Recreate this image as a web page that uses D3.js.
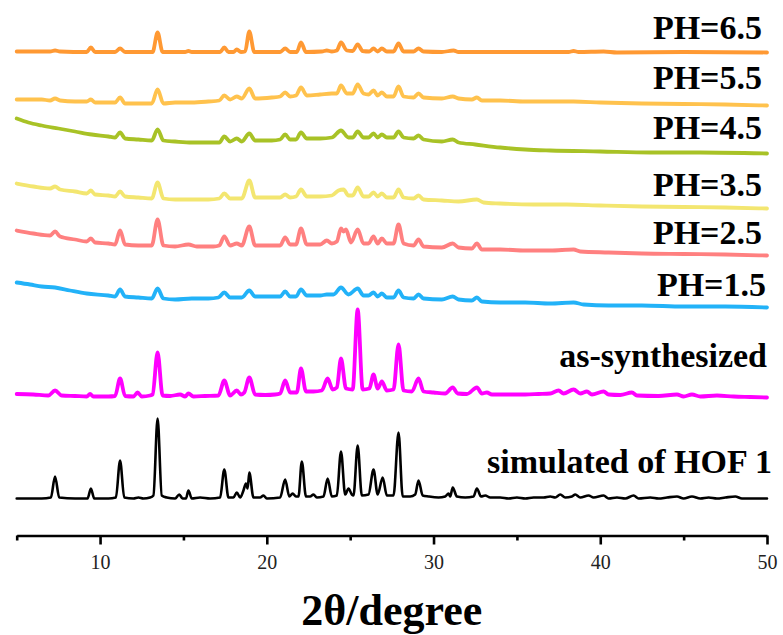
<!DOCTYPE html>
<html>
<head>
<meta charset="utf-8">
<script src="https://cdn.jsdelivr.net/npm/d3@7"></script>
<style>
  html, body { margin: 0; padding: 0; background: #fff; }
  svg { display: block; }
</style>
</head>
<body>
<div id="chart"></div>
<script>
// PXRD patterns of HOF 1, stacked with vertical offsets (intensity in a.u.)
var names = ["simulated of HOF 1", "as-synthesized", "PH=1.5", "PH=2.5", "PH=3.5", "PH=4.5", "PH=5.5", "PH=6.5"];
var colors = ["#000000", "#ff00ff", "#22b2f8", "#ff8080", "#f3e670", "#a8c226", "#ffc24d", "#ff9933"];
var offsets = [37, 138, 228, 280, 327, 382, 430, 483];
var xTicks = [10, 20, 30, 40, 50];
var xMinorTicks = [5, 15, 25, 35, 45];

// [2theta, intensity] pairs for each pattern
var simulated = [[5,0],[6.5,0],[7.05,1],[7.3,22],[7.55,1],[8.5,0],[9.25,0],[9.45,10],[9.65,0],[10.5,0],[10.95,1],[11.2,38],[11.45,1],[12.0,0],[12.3,1],[12.6,0],[13.0,1],[13.2,3],[13.45,80],[13.7,3],[14.0,1],[14.5,0],[14.75,4],[14.95,0],[15.15,0],[15.3,8],[15.5,0],[16.0,1],[16.6,0],[17.2,1],[17.45,29],[17.7,1],[18.0,1],[18.2,6],[18.4,1],[18.6,8],[18.75,15],[18.85,10],[18.95,26],[19.2,1],[19.6,1],[19.8,3],[20.0,0],[20.8,1],[21.1,19],[21.35,2],[21.55,5],[21.75,2],[21.9,2],[22.1,37],[22.35,2],[22.6,2],[22.8,4],[23.0,1],[23.4,2],[23.65,20],[23.9,2],[24.2,3],[24.45,47],[24.7,4],[24.9,10],[25.1,4],[25.2,3],[25.45,53],[25.7,3],[26.1,4],[26.4,29],[26.65,4],[26.95,21],[27.2,3],[27.6,3],[27.9,66],[28.15,2],[28.6,2],[28.9,4],[29.1,18],[29.35,3],[29.7,2],[30.3,1],[30.7,2],[30.9,5],[31.0,2],[31.15,11],[31.4,2],[31.9,1],[32.4,2],[32.6,10],[32.85,2],[33.1,3],[33.4,1],[34.0,1],[34.5,0],[35.0,1],[35.5,0],[36.0,1],[36.6,1],[37.0,2],[37.3,1],[37.6,4],[37.9,1],[38.3,2],[38.5,4],[38.8,1],[39.3,3],[39.6,1],[40.2,3],[40.5,0],[41.0,1],[41.5,0],[42.0,3],[42.3,0],[43.0,1],[43.5,0],[44.0,1],[44.6,2],[45.0,0],[45.5,2],[46.0,0],[46.5,1],[47.0,0],[47.5,1],[48.1,2],[48.5,0],[49.2,0],[50,0]];

var asSynthesized = [[5,3.5],[6,3],[6.9,2],[7.3,7],[7.7,2],[8.5,1.5],[9.2,1],[9.4,3.5],[9.6,1],[10.5,1],[10.9,1.5],[11.2,19],[11.5,1.5],[12.0,1],[12.25,5],[12.5,1],[13.0,2],[13.15,3],[13.45,45],[13.75,2],[14.2,1.5],[14.8,3],[15.1,1],[15.3,4],[15.6,1],[16.3,1.5],[17.1,2],[17.45,17],[17.8,2],[18.2,7],[18.45,3],[18.65,5],[18.95,20],[19.3,3],[19.9,2.5],[20.5,3],[20.8,4],[21.1,17],[21.4,5],[21.8,5],[22.05,29],[22.35,6],[22.8,6],[23.3,7],[23.65,19],[23.95,8],[24.2,10],[24.45,39],[24.75,9],[25.15,8],[25.45,88],[25.75,8],[26.15,9],[26.4,23],[26.65,9],[26.9,16],[27.2,7],[27.6,8],[27.9,53],[28.2,7],[28.7,6],[29.1,19],[29.4,6],[30.0,5],[30.7,4],[31.15,10],[31.45,4],[32.0,3.5],[32.6,10],[32.9,4],[33.2,5],[33.5,3],[34.5,3],[35.5,3],[36.3,3.5],[37.0,4],[37.5,7],[37.8,4],[38.4,8],[38.8,4],[39.2,6],[39.5,3],[40.2,6],[40.5,3],[41.2,2.5],[41.9,5],[42.2,2],[43.5,1.5],[44.6,3],[45.0,1],[45.5,3],[46.0,1],[47.0,2],[48.0,1],[49.0,0.5],[50,0]];

var ph15 = [[5,25],[5.8,23],[6.5,21],[7.3,20],[8.2,17],[9.2,14],[10.5,12],[10.9,11],[11.2,18],[11.5,11],[12.3,10],[13.1,9],[13.45,19],[13.8,9],[14.5,8],[15.5,9],[16.5,9],[17.1,10],[17.45,15],[17.8,10],[18.5,10],[18.95,17],[19.3,11],[20.3,11],[20.8,11],[21.1,16],[21.4,11],[21.75,11],[22.05,18],[22.4,12],[23.2,12],[23.6,13],[24.0,13],[24.45,20],[24.9,13],[25.45,19],[25.8,12],[26.1,12],[26.4,15],[26.65,11],[26.9,14],[27.2,10],[27.6,10],[27.9,17],[28.2,10],[28.8,9],[29.1,13],[29.4,9],[30.5,8],[31.15,11],[31.5,8],[32.3,7],[32.6,10],[32.9,6],[34,5],[35.5,5],[37,4],[38.4,5],[39,3],[40.5,2],[42.5,2],[45,1],[47.5,1],[50,0]];

var ph25 = [[5,25],[6,22],[7.0,20],[7.3,24],[7.6,19],[8.5,16],[9.2,14],[9.45,17],[9.7,13],[10.5,12],[10.9,11],[11.2,25],[11.5,11],[12.3,10],[13.1,10],[13.45,36],[13.8,10],[14.5,9],[15.3,11],[15.8,9],[16.8,9],[17.15,10],[17.45,19],[17.8,10],[18.2,12],[18.5,10],[18.95,29],[19.3,10],[20.3,10],[20.8,10],[21.1,18],[21.4,11],[21.75,11],[22.05,27],[22.4,11],[23.2,11],[23.6,15],[23.9,12],[24.2,14],[24.45,27],[24.6,24],[24.75,26],[25.05,13],[25.45,26],[25.8,12],[26.1,12],[26.4,19],[26.65,12],[26.9,17],[27.2,12],[27.6,12],[27.9,31],[28.2,12],[28.8,10],[29.1,16],[29.4,9],[30.5,8],[31.15,12],[31.5,8],[32.3,7],[32.6,12],[32.9,6],[34,6],[35.5,5],[37,5],[38.4,6],[38.8,4],[40.5,3],[42.5,2],[45,1.5],[47.5,1],[50,0]];

var ph35 = [[5,25],[6,22],[7.0,20],[7.3,22],[7.6,19],[8.5,17],[9.2,15],[9.45,18],[9.7,14],[10.5,13],[10.9,12],[11.2,17],[11.5,12],[12.3,11],[13.1,10],[13.45,26],[13.8,10],[14.5,9],[15.5,9],[16.5,9],[17.15,10],[17.45,15],[17.8,10],[18.5,10],[18.95,28],[19.3,11],[20.3,11],[20.8,11],[21.1,14],[21.4,11],[21.75,12],[22.05,19],[22.4,12],[23.2,12],[23.9,13],[24.3,18],[24.6,19],[24.9,13],[25.15,13],[25.45,21],[25.8,12],[26.1,12],[26.4,16],[26.65,12],[26.9,15],[27.2,11],[27.6,11],[27.9,19],[28.2,11],[28.8,10],[29.1,13],[29.4,9],[30.5,8],[31.5,7],[32.6,9],[33,6],[34,5],[36,4],[38,4],[40,3],[42.5,2],[45,1.5],[47.5,1],[50,0]];

var ph45 = [[5,35],[5.7,31],[6.5,28],[7.5,25],[8.5,22],[9.5,19],[10.5,17],[10.9,16],[11.2,21],[11.5,15],[12.3,14],[13.1,13],[13.45,24],[13.8,13],[14.5,12],[15.5,11],[16.5,11],[17.15,11],[17.45,17],[17.8,12],[18.2,15],[18.5,12],[18.95,20],[19.3,13],[20.3,13],[20.8,14],[21.1,19],[21.4,14],[21.75,14],[22.05,21],[22.4,15],[23.2,15],[23.9,16],[24.45,23],[24.9,16],[25.15,16],[25.45,22],[25.8,16],[26.1,16],[26.4,20],[26.65,16],[26.9,19],[27.2,16],[27.6,16],[27.9,22],[28.2,16],[28.8,15],[29.1,18],[29.4,14],[30.5,12],[31.15,14],[31.5,11],[32.5,9],[34,6],[35.5,4],[37,3],[40,2],[43,1],[46,1],[50,0]];

var ph55 = [[5,6],[6.5,6],[7.0,5],[7.3,7],[7.6,5],[8.5,4],[9.2,4],[9.45,6],[9.7,3],[10.5,3],[10.9,3],[11.2,8],[11.5,2],[12.3,2],[13.1,2],[13.45,16],[13.8,2],[14.5,3],[15.5,3],[16.5,4],[17.15,5],[17.45,10],[17.8,6],[18.2,9],[18.5,7],[18.95,17],[19.3,7],[20.3,8],[20.8,9],[21.1,13],[21.4,9],[21.75,10],[22.05,18],[22.4,10],[23.2,11],[23.9,12],[24.2,12],[24.45,20],[24.8,12],[25.15,12],[25.45,21],[25.8,12],[26.1,11],[26.4,15],[26.65,10],[26.9,13],[27.2,9],[27.6,9],[27.9,19],[28.2,9],[28.8,8],[29.1,12],[29.4,8],[30.5,7],[31.15,9],[31.5,7],[32.3,6],[32.6,8],[32.9,5],[34,5],[35.5,4],[37,4],[38.4,4],[40,3],[42.5,2],[45,1.5],[47.5,1],[50,0]];

var ph65 = [[5,1],[7.0,1],[7.3,2],[7.6,1],[9.2,0.5],[9.45,5],[9.7,0.5],[10.9,0.5],[11.2,4],[11.5,0.5],[13.15,0.5],[13.45,20],[13.75,0.5],[15.1,0.5],[15.3,1.5],[15.5,0.5],[17.2,0.5],[17.45,5],[17.7,0.5],[18.0,0.5],[18.2,3],[18.45,0.5],[18.7,1],[18.95,21],[19.25,0.5],[20.8,0.5],[21.1,4],[21.4,0.5],[21.8,0.5],[22.05,10],[22.35,0.5],[23.3,1],[23.6,2],[23.9,1],[24.2,2],[24.45,10],[24.8,2],[25.15,1.5],[25.45,8],[25.75,1.5],[26.15,1],[26.4,4],[26.65,1],[26.9,4],[27.2,1],[27.6,1],[27.9,9],[28.2,1],[28.8,1],[29.1,4],[29.4,1],[30.5,0.5],[31.2,2],[31.5,0.5],[33,0.5],[35,0.5],[38.1,0.5],[38.4,1.5],[38.7,0.5],[40.2,1],[41,0],[45,0.5],[50,0]];

var patterns = [simulated, asSynthesized, ph15, ph25, ph35, ph45, ph55, ph65];

var width = 783, height = 635;
var svg = d3.select("#chart").append("svg")
    .attr("width", width)
    .attr("height", height);

var x = d3.scaleLinear().domain([5, 50]).range([16.7, 767]);
var y = d3.scaleLinear().domain([0, 535]).range([535.5, 0.5]);

var serif = "'Liberation Serif', 'Times New Roman', serif";

// patterns
var line = d3.line()
    .x(function (d) { return x(d[0]); })
    .y(function (d) { return d[1]; })
    .curve(d3.curveMonotoneX);

patterns.forEach(function (p, i) {
  var pts = p.map(function (d) { return [d[0], y(d[1] + offsets[i])]; });
  svg.append("path")
      .attr("d", line(pts))
      .attr("fill", "none")
      .attr("stroke", colors[i])
      .attr("stroke-width", i === 0 ? 2.6 : 3.8)
      .attr("stroke-linejoin", "round")
      .attr("stroke-linecap", "round");
});

// labels sit just above the right end of each trace
var labelGap = [26, 31, 12, 12, 13, 15, 17, 14];
var labelRight = [772, 767, 766, 762, 762, 762, 762, 762];
names.forEach(function (n, i) {
  svg.append("text")
      .attr("x", labelRight[i])
      .attr("y", y(offsets[i]) - labelGap[i])
      .attr("text-anchor", "end")
      .style("font-family", serif)
      .style("font-weight", "bold")
      .style("font-size", "34px")
      .style("fill", "#000")
      .text(n);
});

// x axis
var axisY = 535.5;
var xAxis = d3.axisBottom(x)
    .tickValues(xTicks)
    .tickSize(9)
    .tickSizeOuter(0)
    .tickPadding(10)
    .tickFormat(d3.format("d"));

var gx = svg.append("g")
    .attr("transform", "translate(0," + axisY + ")")
    .call(xAxis);
gx.attr("font-family", null);
gx.select(".domain").attr("stroke-width", 2.6);
gx.selectAll(".tick line").attr("stroke-width", 2.6);
gx.selectAll(".tick text")
    .style("font-family", serif)
    .style("font-size", "20px")
    .style("fill", "#222");

var gMinor = svg.append("g")
    .attr("transform", "translate(0," + axisY + ")")
    .call(d3.axisBottom(x).tickValues(xMinorTicks).tickSize(5).tickSizeOuter(0).tickFormat(""));
gMinor.select(".domain").remove();
gMinor.selectAll(".tick line").attr("stroke-width", 2.6);

svg.append("text")
    .attr("x", (x.range()[0] + x.range()[1]) / 2)
    .attr("y", 625)
    .attr("text-anchor", "middle")
    .style("font-family", serif)
    .style("font-weight", "bold")
    .style("font-size", "44px")
    .style("fill", "#000")
    .text("2θ/degree");
</script>
</body>
</html>
